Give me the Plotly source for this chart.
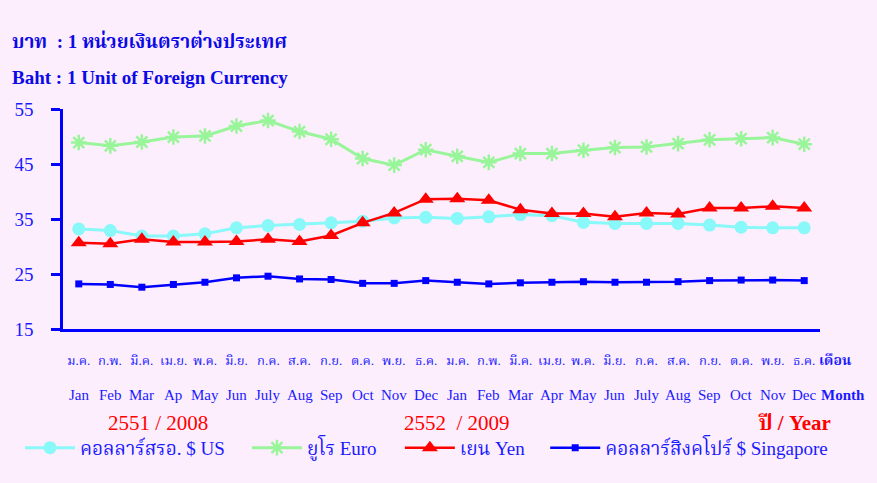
import plotly.graph_objects as go

months_th = ["ม.ค.", "ก.พ.", "มี.ค.", "เม.ย.", "พ.ค.", "มิ.ย.", "ก.ค.", "ส.ค.", "ก.ย.", "ต.ค.", "พ.ย.", "ธ.ค.",
             "ม.ค.", "ก.พ.", "มี.ค.", "เม.ย.", "พ.ค.", "มิ.ย.", "ก.ค.", "ส.ค.", "ก.ย.", "ต.ค.", "พ.ย.", "ธ.ค."]
months_en = ["Jan", "Feb", "Mar", "Ap", "May", "Jun", "July", "Aug", "Sep", "Oct", "Nov", "Dec",
             "Jan", "Feb", "Mar", "Apr", "May", "Jun", "July", "Aug", "Sep", "Oct", "Nov", "Dec"]

usd = [33.2, 32.9, 31.9, 31.9, 32.3, 33.4, 33.8, 34.0, 34.3, 34.6, 35.2, 35.3,
       35.1, 35.4, 35.8, 35.6, 34.4, 34.2, 34.2, 34.2, 33.9, 33.5, 33.4, 33.4]
eur = [48.9, 48.3, 49.0, 49.9, 50.1, 51.9, 52.9, 50.9, 49.5, 46.0, 44.8, 47.6,
       46.4, 45.3, 46.9, 46.9, 47.5, 48.0, 48.1, 48.7, 49.4, 49.6, 49.8, 48.6]
jpy = [30.7, 30.5, 31.3, 30.8, 30.8, 30.9, 31.3, 30.9, 32.0, 34.3, 36.1, 38.6,
       38.7, 38.4, 36.7, 36.0, 36.0, 35.4, 36.1, 35.9, 37.0, 37.0, 37.3, 37.0]
sgd = [23.2, 23.1, 22.6, 23.1, 23.5, 24.3, 24.6, 24.1, 24.0, 23.3, 23.3, 23.8,
       23.5, 23.2, 23.4, 23.5, 23.6, 23.5, 23.5, 23.6, 23.8, 23.9, 23.9, 23.8]

y_ticks = [15, 25, 35, 45, 55]

x = list(range(len(months_en)))
BLUE = "#1a1aff"
FONT = "Liberation Serif, Noto Serif Thai, Noto Sans Thai Looped, Norasi, Garuda, Noto Sans Thai, serif"

fig = go.Figure()
fig.add_trace(go.Scatter(x=x, y=usd, mode="lines+markers", name="คอลลาร์สรอ. $ US", legend="legend",
                         line=dict(color="#88f8f8", width=3),
                         marker=dict(symbol="circle", size=13, color="#88f8f8")))
fig.add_trace(go.Scatter(x=x, y=eur, mode="lines+markers", name="ยูโร Euro", legend="legend2",
                         line=dict(color="#99f599", width=3),
                         marker=dict(symbol="asterisk-open", size=13, line=dict(color="#99f599", width=2.5))))
fig.add_trace(go.Scatter(x=x, y=jpy, mode="lines+markers", name="เยน Yen", legend="legend3",
                         line=dict(color="#ff0000", width=2.5),
                         marker=dict(symbol="triangle-up", size=14, color="#ff0000")))
fig.add_trace(go.Scatter(x=x, y=sgd, mode="lines+markers", name="คอลลาร์สิงคโปร์ $ Singapore", legend="legend4",
                         line=dict(color="#0000ff", width=2.5),
                         marker=dict(symbol="square", size=7, color="#0000ff")))

ann = []
for i in x:
    ann.append(dict(x=i, y=-0.141, xref="x", yref="paper", text=months_th[i], showarrow=False,
                    font=dict(size=13, color=BLUE, family=FONT), yanchor="middle"))
    ann.append(dict(x=i, y=-0.30, xref="x", yref="paper", text=months_en[i], showarrow=False,
                    font=dict(size=15, color=BLUE, family=FONT), yanchor="middle"))
ann.append(dict(x=0.996, y=-0.141, xref="paper", yref="paper", text="<b>เดือน</b>", showarrow=False,
                font=dict(size=14, color=BLUE, family=FONT), yanchor="middle", xanchor="left"))
ann.append(dict(x=0.999, y=-0.30, xref="paper", yref="paper", text="<b>Month</b>", showarrow=False,
                font=dict(size=15, color=BLUE, family=FONT), yanchor="middle", xanchor="left"))
ann.append(dict(x=2.5, y=-0.427, xref="x", yref="paper", text="2551 / 2008", showarrow=False,
                font=dict(size=21, color="#ff0000", family=FONT), yanchor="middle"))
ann.append(dict(x=12.0, y=-0.427, xref="x", yref="paper", text="2552  / 2009", showarrow=False,
                font=dict(size=21, color="#ff0000", family=FONT), yanchor="middle"))
ann.append(dict(x=22.7, y=-0.427, xref="x", yref="paper", text="<b>ปี / Year</b>", showarrow=False,
                font=dict(size=21, color="#ff0000", family=FONT), yanchor="middle"))
ann.append(dict(x=-0.0700, y=1.31, xref="paper", yref="paper", xanchor="left", yanchor="middle",
                text="<b>บาท  : 1 หน่วยเงินตราต่างประเทศ</b>", showarrow=False,
                font=dict(size=19, color="#0a0ae6", family=FONT)))
ann.append(dict(x=-0.0700, y=1.145, xref="paper", yref="paper", xanchor="left", yanchor="middle",
                text="<b>Baht : 1 Unit of Foreign Currency</b>", showarrow=False,
                font=dict(size=19, color="#0a0ae6", family=FONT)))

def leg(xpos):
    return dict(orientation="h", x=xpos, y=-0.54, xanchor="left", yanchor="middle",
                font=dict(size=19, color=BLUE, family=FONT), bgcolor="rgba(0,0,0,0)",
                itemwidth=50)

fig.update_layout(
    width=877, height=483,
    margin=dict(l=63, r=57, t=109, b=154),
    paper_bgcolor="#fdeefd", plot_bgcolor="#fdeefd",
    showlegend=True,
    legend=leg(-0.0568), legend2=leg(0.243), legend3=leg(0.445), legend4=leg(0.637),
    annotations=ann,
    xaxis=dict(range=[-0.5, 23.5], showticklabels=False, ticks="", showgrid=False, zeroline=False,
               showline=True, linecolor="#0000ff", linewidth=2.5),
    yaxis=dict(range=[15, 55], tickvals=y_ticks, ticks="outside", ticklen=9, tickwidth=2.5,
               tickcolor="#0000ff", showgrid=False, zeroline=False, showline=True,
               linecolor="#0000ff", linewidth=2.5, ticklabelstandoff=14,
               tickfont=dict(size=19, color=BLUE, family=FONT)),
)

fig.write_html("out.html", config={"displayModeBar": False},
               post_script="document.body.style.margin='0';document.body.style.overflow='hidden';")
